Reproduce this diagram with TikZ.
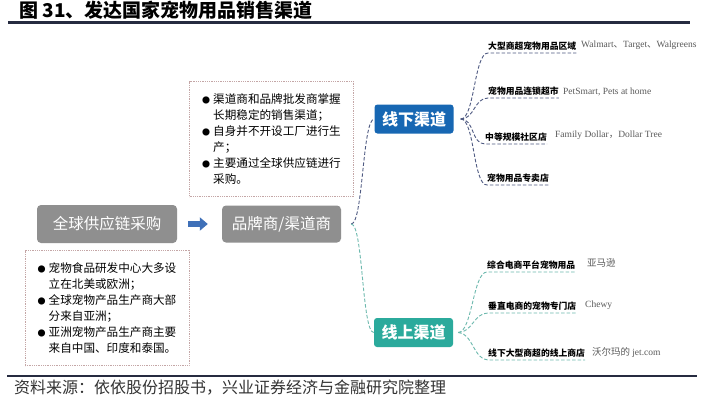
\documentclass[tikz,border=0pt]{standalone}
\usepackage{fontspec}
\setmainfont{Noto Sans CJK SC}
\newfontfamily\latinfont{Liberation Serif}
\usetikzlibrary{arrows.meta, positioning}
\definecolor{rulenavy}{HTML}{262B40}
\definecolor{boxgray}{HTML}{8F8F8F}
\definecolor{offblue}{HTML}{1767B3}
\definecolor{onteal}{HTML}{2BAA9C}
\definecolor{arrowblue}{HTML}{3F70B8}
\definecolor{notered}{HTML}{C4A6A6}
\definecolor{offline}{HTML}{4F5A82}
\definecolor{online}{HTML}{6DB9AE}
\definecolor{vendorgray}{HTML}{5A5A5A}
\newcommand{\bul}{\makebox[11pt][l]{\fontsize{8}{8}\selectfont ●}}
\newcommand{\gap}{\hspace*{11pt}}
\newcommand{\lat}[1]{{\latinfont #1}}

\begin{document}
\begin{tikzpicture}[
    x=1pt, y=-1pt,
    stage/.style={
        rectangle, rounded corners=4pt, fill=boxgray, text=white,
        font=\fontsize{15.5}{16}\selectfont, inner sep=0pt
    },
    channel/.style={
        rectangle, rounded corners=3pt, text=white,
        font=\fontsize{16}{16}\selectfont\bfseries,
        minimum width=79pt, minimum height=29pt, inner sep=0pt
    },
    note/.style={
        rectangle, draw=notered, densely dotted, line width=0.8pt,
        minimum width=164pt, minimum height=115pt, align=left,
        font=\fontsize{11.6}{16}\selectfont
    },
    shop/.style={anchor=south west, inner xsep=0pt, inner ysep=2.5pt,
        font=\fontsize{8.8}{9}\selectfont\bfseries},
    vendor/.style={anchor=west, inner sep=0pt, text=vendorgray,
        font=\fontsize{9.5}{10}\selectfont},
    feed/.style={-{Triangle[length=8pt,width=13pt]}, line width=5.5pt,
        draw=arrowblue, shorten <=11pt, shorten >=14pt},
    offlink/.style={draw=offline, dash pattern=on 3.5pt off 2pt, line width=0.9pt},
    onlink/.style={draw=online, dash pattern=on 3.5pt off 2pt, line width=0.9pt},
    rule/.style={draw=rulenavy, line width=2.5pt}
]
\useasboundingbox[fill=white] (0,0) rectangle (704,407);

% Title and rules
\node[anchor=west, inner sep=0pt, font=\fontsize{19}{19}\selectfont\bfseries] (title) at (19,10)
    {图 31、发达国家宠物用品销售渠道};
\draw[rule] (8,22.5) -- (690,22.5);
\draw[rule] (7,376) -- (697,376);
\node[anchor=west, inner sep=0pt, text=black!80, font=\fontsize{16}{16}\selectfont] (source) at (14,388)
    {资料来源：依依股份招股书，兴业证券经济与金融研究院整理};

% Supply chain and brand
\node[stage, minimum width=140pt, minimum height=38pt] (supply) at (107,224) {全球供应链采购};
\node[stage, minimum width=119pt, minimum height=37pt] (brand) at (281.5,224) {品牌商/渠道商};
\draw[feed] (supply) -- (brand);

% Notes
\node[note] (brandnote) at (271.5,139)
    {\bul 渠道商和品牌批发商掌握\\\gap 长期稳定的销售渠道；\\
     \bul 自身并不开设工厂进行生\\\gap 产；\\
     \bul 主要通过全球供应链进行\\\gap 采购。};
\node[note] (supplynote) at (107,308)
    {\bul 宠物食品研发中心大多设\\\gap 立在北美或欧洲；\\
     \bul 全球宠物产品生产商大部\\\gap 分来自亚洲；\\
     \bul 亚洲宠物产品生产商主要\\\gap 来自中国、印度和泰国。};

% Channels
\node[channel, fill=offblue] (off) at (414,119) {线下渠道};
\node[channel, fill=onteal]  (on)  at (413.5,332.5) {线上渠道};
\coordinate (brandhub) at ([xshift=10pt]brand.east);
\draw[offlink] (brandhub) .. controls +(12,0) and +(-12,0) .. (off.west);
\draw[onlink]  (brandhub) .. controls +(12,0) and +(-12,0) .. (on.west);

% Offline shops
\node[shop] (s1) at (488,53)  {大型商超宠物用品区域};
\node[shop] (s2) at (488,98)  {宠物用品连锁超市};
\node[shop] (s3) at (485,144) {中等规模社区店};
\node[shop] (s4) at (487,185) {宠物用品专卖店};
\coordinate (offhub) at ([xshift=7pt]off.east);
\foreach \s in {s1,s2,s3,s4}
    \draw[offlink] (offhub) .. controls +(14,0) and +(-14,0) .. (\s.south west) -- (\s.south east);

% Online shops
\node[shop] (o1) at (487,272) {综合电商平台宠物用品};
\node[shop] (o2) at (488,313) {垂直电商的宠物专门店};
\node[shop] (o3) at (488,360) {线下大型商超的线上商店};
\coordinate (onhub) at ([xshift=5pt]on.east);
\foreach \s in {o1,o2,o3}
    \draw[onlink] (onhub) .. controls +(14,0) and +(-14,0) .. (\s.south west) -- (\s.south east);

% Vendors
\node[vendor] (v1) at (581,45)  {\lat{Walmart}、\lat{Target}、\lat{Walgreens}};
\node[vendor] (v2) at (563,92)  {\lat{PetSmart, Pets at home}};
\node[vendor] (v3) at (555,135) {\lat{Family Dollar}，\lat{Dollar Tree}};
\node[vendor] (v5) at (587,263) {亚马逊};
\node[vendor] (v6) at (585,305) {\lat{Chewy}};
\node[vendor] (v7) at (592,352) {沃尔玛的 \lat{jet.com}};

\end{tikzpicture}
\end{document}
